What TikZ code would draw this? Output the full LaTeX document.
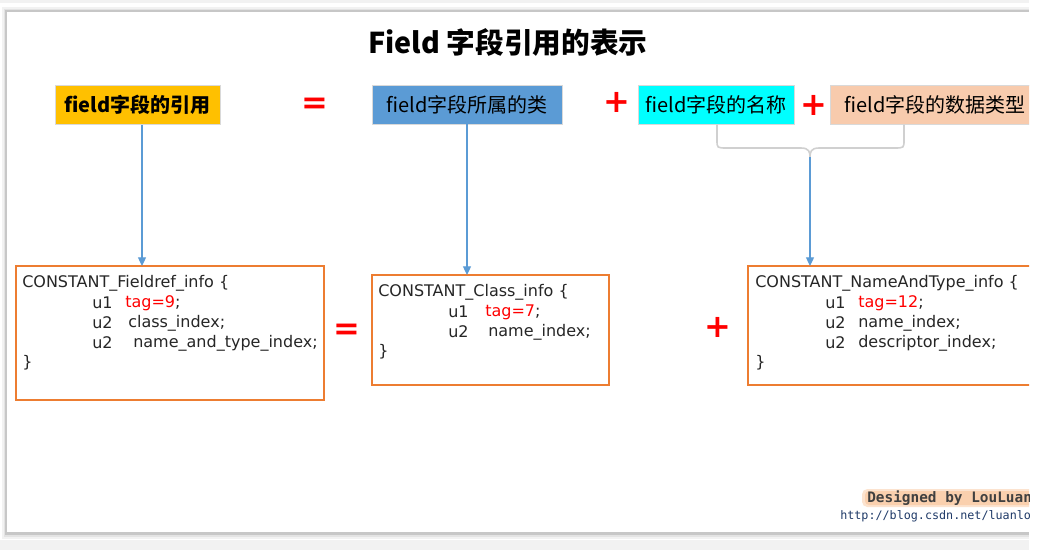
\documentclass[tikz,border=0pt]{standalone}
\usepackage{fontspec}
\setmainfont{Noto Sans CJK SC}
\newfontfamily\codefont{DejaVu Sans}
\newfontfamily\symfont{DejaVu Sans}
\newfontfamily\footfont{DejaVu Sans Mono}
\usetikzlibrary{arrows.meta}
\definecolor{ybox}{HTML}{FFC000}
\definecolor{bbox}{HTML}{5B9BD5}
\definecolor{cbox}{HTML}{00FFFF}
\definecolor{pbox}{HTML}{F8CBAD}
\definecolor{obord}{HTML}{ED7D31}
\definecolor{arrowblue}{HTML}{5B9BD5}
\definecolor{bracegray}{HTML}{D0D0D0}
\definecolor{glow}{HTML}{FAC9A0}
\definecolor{urlblue}{HTML}{1F3A68}
\definecolor{codered}{HTML}{FF0000}
\tikzset{
  topbox/.style={draw=black!15, line width=0.5pt, inner sep=0pt, minimum height=39*0.75pt, font=\fontsize{15}{18}\selectfont},
  codebox/.style={draw=obord, line width=0.8pt, inner sep=0pt},
  code/.style={anchor=west, inner sep=0pt, font=\codefont\fontsize{12}{14}\selectfont, text=black!85},
  sign/.style={text=red, inner sep=0pt, font=\symfont\bfseries\fontsize{24}{24}\selectfont},
  arr/.style={draw=arrowblue, line width=0.9pt, -{Triangle[width=6pt,length=6.5pt]}},
  bracel/.style={draw=bracegray, line width=1.2pt}
}
\begin{document}
\begin{tikzpicture}[x=0.75pt,y=-0.75pt]
\useasboundingbox (0,0) rectangle (1042,550);
\fill[white] (0,0) rectangle (1042,550);
\fill[black!5] (0,0) rectangle (1029,3);
\fill[black!5] (0,540) rectangle (1029,550);
% page shadow
\fill[black!5] (2,7) rectangle (1029,539);
\fill[black!11] (4,9) rectangle (1029,537);
\fill[black!22] (5,10) rectangle (1029,535);
\fill[white] (7,12) rectangle (1029,532);
\begin{scope}
\clip (7,12) rectangle (1029,532);
% title
\node[font=\bfseries\fontsize{21.5}{26}\selectfont] (title) at (508,42) {Field 字段引用的表示};
% top boxes
\node[topbox, fill=ybox, minimum width=165*0.75pt, font=\bfseries\fontsize{15}{18}\selectfont] (ref) at (137.5,105) {field字段的引用};
\node[topbox, fill=bbox, minimum width=190*0.75pt] (cls) at (467,104.5) {field字段所属的类};
\node[topbox, fill=cbox, minimum width=156*0.75pt] (nam) at (716,104.5) {field字段的名称};
\node[topbox, fill=pbox, minimum width=210*0.75pt] (typ) at (935,104.5) {field字段的数据类型};
% signs top
\node[sign] (eq1) at (315,106) {=};
\node[sign] (pl1) at (617,102) {+};
\node[sign] (pl2) at (814,105) {+};
% brace
\coordinate (bl) at (717,124.5);
\coordinate (br) at (904,124.5);
\coordinate (bc) at (810,157);
\draw[bracel] (bl) -- (717,140) .. controls (717,148) .. (727,148) -- (801,148) .. controls (809,148) and (810,152) .. (bc);
\draw[bracel] (br) -- (904,140) .. controls (904,148) .. (894,148) -- (819,148) .. controls (811,148) and (810,152) .. (bc);
% code boxes
\node[codebox, minimum width=308*0.75pt, minimum height=134*0.75pt] (fref) at (170,333) {};
\node[codebox, minimum width=237*0.75pt, minimum height=110*0.75pt] (cinfo) at (490.5,330) {};
\node[codebox, minimum width=292*0.75pt, minimum height=119*0.75pt] (ntinfo) at (894,325.5) {};
% arrows
\coordinate (a1) at (142,266);
\coordinate (a2) at (467,275);
\coordinate (a3) at (810,266);
\draw[arr] (ref.south -| a1) -- (a1);
\draw[arr] (cls.south -| a2) -- (a2);
\draw[arr] (bc) -- (a3);
% bottom signs
\node[sign] (eq2) at (347,332) {=};
\node[sign] (pl3) at (718,327) {+};
% box 1 text
\node[code] (f1) at (22,283) {CONSTANT\_Fieldref\_info \{};
\node[code] (f2a) at (92,303) {u1};
\node[code, text=codered] (f2b) at (125,303) {tag=9\textcolor{black!85}{;}};
\node[code] (f3a) at (92,323) {u2};
\node[code] (f3b) at (128,323) {class\_index;};
\node[code] (f4a) at (92,343) {u2};
\node[code] (f4b) at (133,343) {name\_and\_type\_index;};
\node[code] (f5) at (22,363) {\}};
% box 2 text
\node[code] (c1) at (378,292) {CONSTANT\_Class\_info \{};
\node[code] (c2a) at (448,312) {u1};
\node[code, text=codered] (c2b) at (485,312) {tag=7\textcolor{black!85}{;}};
\node[code] (c3a) at (448,332) {u2};
\node[code] (c3b) at (488,332) {name\_index;};
\node[code] (c4) at (378,352) {\}};
% box 3 text
\node[code] (n1) at (755,283) {CONSTANT\_NameAndType\_info \{};
\node[code] (n2a) at (825,303) {u1};
\node[code, text=codered] (n2b) at (858,303) {tag=12\textcolor{black!85}{;}};
\node[code] (n3a) at (825,323) {u2};
\node[code] (n3b) at (858,323) {name\_index;};
\node[code] (n4a) at (825,343) {u2};
\node[code] (n4b) at (858,343) {descriptor\_index;};
\node[code] (n5) at (755,363) {\}};
% footer
\fill[glow, opacity=0.5, rounded corners=4pt] (862,489) rectangle (1040,507);
\fill[glow, opacity=0.7, rounded corners=3pt] (865,491) rectangle (1040,505);
\node[anchor=west, inner sep=0pt, font=\footfont\bfseries\fontsize{10.8}{12}\selectfont, text=black!75] (sig) at (867,498) {Designed by LouLuan};
\node[anchor=west, inner sep=0pt, font=\footfont\fontsize{8.8}{10}\selectfont, text=urlblue] (url) at (840,516) {http://blog.csdn.net/luanlouis};
\end{scope}
\end{tikzpicture}
\end{document}
